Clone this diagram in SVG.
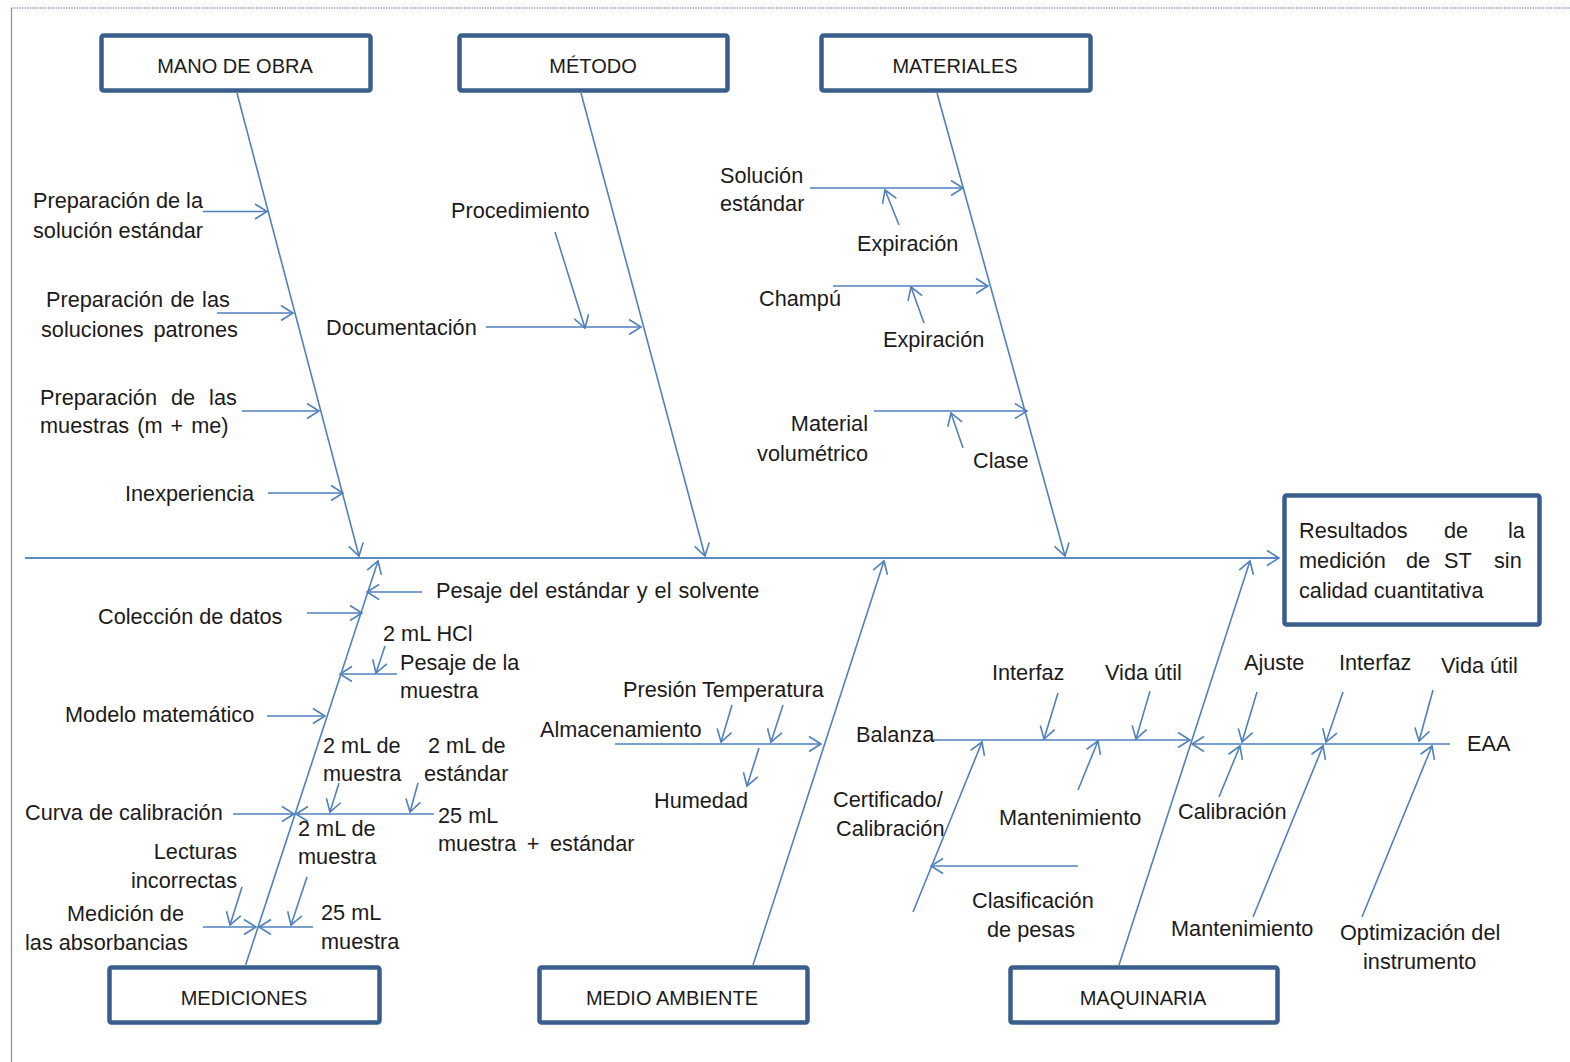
<svg xmlns="http://www.w3.org/2000/svg" width="1570" height="1062" viewBox="0 0 1570 1062">
  <style>
    .lbl { font-family: "Liberation Sans", Arial, sans-serif; font-size: 21.7px; fill: #1c1a1a; }
    .ttl { font-family: "Liberation Sans", Arial, sans-serif; font-size: 20px; fill: #1c1a1a; text-anchor: middle; }
    .box { fill: #ffffff; stroke: #3a5e8c; stroke-width: 4.5; }
    .ln { fill: none; stroke: #4f81bd; stroke-width: 1.6; marker-end: url(#ah); }
    .spine { fill: none; stroke: #5b8ac4; stroke-width: 2.2; marker-end: url(#ah); }
  </style>
  <defs>
    <marker id="ah" viewBox="-14 -10 16 20" refX="0" refY="0" markerWidth="16" markerHeight="20" markerUnits="userSpaceOnUse" orient="auto">
      <path d="M-12,-7.5 L0,0 L-12,7.5" fill="none" stroke="#4f81bd" stroke-width="1.6"/>
    </marker>
  </defs>

  <rect width="1570" height="1062" fill="#ffffff"/>

  <!-- page frame -->
  <g id="frame" fill="none" stroke="#8397b8" stroke-width="1.3">
    <line x1="11.5" y1="8" x2="1570" y2="8" stroke-dasharray="1.3 1.3"/>
    <line x1="11.5" y1="8" x2="11.5" y2="1062"/>
  </g>

  <!-- spine, category bones and cause arrows -->
  <g id="connectors">
    <path class="spine" d="M25,558 L1279,558"/>

    <path class="ln" d="M237,93 L359,556"/>
    <path class="ln" d="M581,93 L705,556"/>
    <path class="ln" d="M937,93 L1065,556"/>
    <path class="ln" d="M245.6,965 L378,561"/>
    <path class="ln" d="M753,965 L884,561"/>
    <path class="ln" d="M1119,965 L1250,561"/>

    <!-- mano de obra -->
    <path class="ln" d="M203,211.5 L267,211.5"/>
    <path class="ln" d="M217,313 L293,313"/>
    <path class="ln" d="M242,411 L319,411"/>
    <path class="ln" d="M268,493 L343,493"/>

    <!-- metodo -->
    <path class="ln" d="M486,327 L641,327"/>
    <path class="ln" d="M555,232 L585,328"/>

    <!-- materiales -->
    <path class="ln" d="M810,188 L963,188"/>
    <path class="ln" d="M899,225 L885,190"/>
    <path class="ln" d="M833,286 L988,286"/>
    <path class="ln" d="M924,323 L911,287"/>
    <path class="ln" d="M874,411 L1027,411"/>
    <path class="ln" d="M963,448 L951,413"/>

    <!-- mediciones -->
    <path class="ln" d="M422,592 L367,592"/>
    <path class="ln" d="M307,613 L362,613"/>
    <path class="ln" d="M397,674 L340,674"/>
    <path class="ln" d="M385,646 L376,673"/>
    <path class="ln" d="M267,716 L325,716"/>
    <path class="ln" d="M233,814 L294,814"/>
    <path class="ln" d="M434,814 L296,814"/>
    <path class="ln" d="M339,783 L330,812"/>
    <path class="ln" d="M418,783 L410,812"/>
    <path class="ln" d="M203,927 L256,927"/>
    <path class="ln" d="M313,927 L259,927"/>
    <path class="ln" d="M242,887 L230,925"/>
    <path class="ln" d="M307,877 L291,925"/>

    <!-- medio ambiente -->
    <path class="ln" d="M615,744 L821,744"/>
    <path class="ln" d="M732,705 L721,742"/>
    <path class="ln" d="M783,705 L771,742"/>
    <path class="ln" d="M759,748 L747,786"/>

    <!-- maquinaria: balanza -->
    <path class="ln" d="M931,740 L1190,740"/>
    <path class="ln" d="M1058,693 L1044,739"/>
    <path class="ln" d="M1150,691 L1136,739"/>
    <path class="ln" d="M1078,790 L1098,741"/>
    <path class="ln" d="M913,912 L982,742"/>
    <path class="ln" d="M1078,866 L931,866"/>

    <!-- maquinaria: EAA -->
    <path class="ln" d="M1450,744 L1192,744"/>
    <path class="ln" d="M1257,692 L1242,742"/>
    <path class="ln" d="M1343,692 L1326,742"/>
    <path class="ln" d="M1433,690 L1419,741"/>
    <path class="ln" d="M1219,797 L1240,746"/>
    <path class="ln" d="M1253,917 L1323,746"/>
    <path class="ln" d="M1362,917 L1432,746"/>
  </g>

  <!-- category boxes -->
  <g id="mano-de-obra">
    <rect class="box" x="101.5" y="35.5" width="269" height="55" rx="2"/>
    <text class="ttl" x="235" y="73">MANO DE OBRA</text>
  </g>
  <g id="metodo">
    <rect class="box" x="459.5" y="35.5" width="268" height="55" rx="2"/>
    <text class="ttl" x="593" y="73">MÉTODO</text>
  </g>
  <g id="materiales">
    <rect class="box" x="821.5" y="35.5" width="269" height="55" rx="2"/>
    <text class="ttl" x="955" y="73">MATERIALES</text>
  </g>
  <g id="mediciones">
    <rect class="box" x="109.5" y="967.5" width="270" height="55" rx="2"/>
    <text class="ttl" x="244" y="1005">MEDICIONES</text>
  </g>
  <g id="medio-ambiente">
    <rect class="box" x="539.5" y="967.5" width="268" height="55" rx="2"/>
    <text class="ttl" x="672" y="1005">MEDIO AMBIENTE</text>
  </g>
  <g id="maquinaria">
    <rect class="box" x="1010.5" y="967.5" width="267" height="55" rx="2"/>
    <text class="ttl" x="1143" y="1005">MAQUINARIA</text>
  </g>

  <!-- effect box -->
  <g id="resultado">
    <rect class="box" x="1284.5" y="495.5" width="255" height="129" rx="2"/>
    <text class="lbl" x="1299" y="538">Resultados</text>
    <text class="lbl" x="1444" y="538">de</text>
    <text class="lbl" x="1508" y="538">la</text>
    <text class="lbl" x="1299" y="568">medición</text>
    <text class="lbl" x="1406" y="568">de</text>
    <text class="lbl" x="1444" y="568">ST</text>
    <text class="lbl" x="1494" y="568">sin</text>
    <text class="lbl" x="1299" y="598">calidad cuantitativa</text>
  </g>

  <!-- causes: mano de obra -->
  <g id="c-prep-solucion">
    <text class="lbl" x="33" y="208">Preparación de la</text>
    <text class="lbl" x="33" y="238">solución estándar</text>
  </g>
  <g id="c-prep-patrones">
    <text class="lbl" x="46" y="307" word-spacing="1.5">Preparación de las</text>
    <text class="lbl" x="41" y="337" word-spacing="4">soluciones patrones</text>
  </g>
  <g id="c-prep-muestras">
    <text class="lbl" x="40" y="405" word-spacing="8">Preparación de las</text>
    <text class="lbl" x="40" y="433" word-spacing="2">muestras (m + me)</text>
  </g>
  <g id="c-inexperiencia">
    <text class="lbl" x="125" y="501">Inexperiencia</text>
  </g>

  <!-- causes: metodo -->
  <g id="c-procedimiento">
    <text class="lbl" x="451" y="218">Procedimiento</text>
  </g>
  <g id="c-documentacion">
    <text class="lbl" x="326" y="335">Documentación</text>
  </g>

  <!-- causes: materiales -->
  <g id="c-solucion-estandar">
    <text class="lbl" x="720" y="183">Solución</text>
    <text class="lbl" x="720" y="211">estándar</text>
  </g>
  <g id="c-expiracion-1">
    <text class="lbl" x="857" y="251">Expiración</text>
  </g>
  <g id="c-champu">
    <text class="lbl" x="759" y="306">Champú</text>
  </g>
  <g id="c-expiracion-2">
    <text class="lbl" x="883" y="347">Expiración</text>
  </g>
  <g id="c-material-volumetrico">
    <text class="lbl" x="868" y="431" text-anchor="end">Material</text>
    <text class="lbl" x="868" y="461" text-anchor="end">volumétrico</text>
  </g>
  <g id="c-clase">
    <text class="lbl" x="973" y="468">Clase</text>
  </g>

  <!-- causes: mediciones -->
  <g id="c-pesaje-estandar">
    <text class="lbl" x="436" y="598" word-spacing="1">Pesaje del estándar y el solvente</text>
  </g>
  <g id="c-coleccion">
    <text class="lbl" x="98" y="624">Colección de datos</text>
  </g>
  <g id="c-hcl">
    <text class="lbl" x="383" y="641">2 mL HCl</text>
  </g>
  <g id="c-pesaje-muestra">
    <text class="lbl" x="400" y="670">Pesaje de la</text>
    <text class="lbl" x="400" y="698">muestra</text>
  </g>
  <g id="c-modelo">
    <text class="lbl" x="65" y="722">Modelo matemático</text>
  </g>
  <g id="c-2ml-muestra-a">
    <text class="lbl" x="323" y="753">2 mL de</text>
    <text class="lbl" x="323" y="781">muestra</text>
  </g>
  <g id="c-2ml-estandar">
    <text class="lbl" x="428" y="753">2 mL de</text>
    <text class="lbl" x="424" y="781">estándar</text>
  </g>
  <g id="c-curva">
    <text class="lbl" x="25" y="820">Curva de calibración</text>
  </g>
  <g id="c-25ml-mezcla">
    <text class="lbl" x="438" y="823">25 mL</text>
    <text class="lbl" x="438" y="851" word-spacing="4.5">muestra + estándar</text>
  </g>
  <g id="c-2ml-muestra-b">
    <text class="lbl" x="298" y="836">2 mL de</text>
    <text class="lbl" x="298" y="864">muestra</text>
  </g>
  <g id="c-lecturas">
    <text class="lbl" x="237" y="859" text-anchor="end">Lecturas</text>
    <text class="lbl" x="237" y="888" text-anchor="end">incorrectas</text>
  </g>
  <g id="c-medicion-abs">
    <text class="lbl" x="67" y="921">Medición de</text>
    <text class="lbl" x="25" y="950">las absorbancias</text>
  </g>
  <g id="c-25ml-muestra">
    <text class="lbl" x="321" y="920">25 mL</text>
    <text class="lbl" x="321" y="949">muestra</text>
  </g>

  <!-- causes: medio ambiente -->
  <g id="c-presion">
    <text class="lbl" x="623" y="697">Presión</text>
  </g>
  <g id="c-temperatura">
    <text class="lbl" x="702" y="697">Temperatura</text>
  </g>
  <g id="c-almacenamiento">
    <text class="lbl" x="540" y="737">Almacenamiento</text>
  </g>
  <g id="c-humedad">
    <text class="lbl" x="654" y="808">Humedad</text>
  </g>

  <!-- causes: maquinaria -->
  <g id="c-balanza">
    <text class="lbl" x="856" y="742">Balanza</text>
  </g>
  <g id="c-interfaz-1">
    <text class="lbl" x="992" y="680">Interfaz</text>
  </g>
  <g id="c-vida-util-1">
    <text class="lbl" x="1105" y="680">Vida útil</text>
  </g>
  <g id="c-certificado">
    <text class="lbl" x="833" y="807">Certificado/</text>
    <text class="lbl" x="836" y="836">Calibración</text>
  </g>
  <g id="c-mantenimiento-1">
    <text class="lbl" x="999" y="825">Mantenimiento</text>
  </g>
  <g id="c-clasificacion">
    <text class="lbl" x="972" y="908">Clasificación</text>
    <text class="lbl" x="987" y="937">de pesas</text>
  </g>
  <g id="c-ajuste">
    <text class="lbl" x="1244" y="670">Ajuste</text>
  </g>
  <g id="c-interfaz-2">
    <text class="lbl" x="1339" y="670">Interfaz</text>
  </g>
  <g id="c-vida-util-2">
    <text class="lbl" x="1441" y="673">Vida útil</text>
  </g>
  <g id="c-eaa">
    <text class="lbl" x="1467" y="751">EAA</text>
  </g>
  <g id="c-calibracion">
    <text class="lbl" x="1178" y="819">Calibración</text>
  </g>
  <g id="c-mantenimiento-2">
    <text class="lbl" x="1171" y="936">Mantenimiento</text>
  </g>
  <g id="c-optimizacion">
    <text class="lbl" x="1340" y="940">Optimización del</text>
    <text class="lbl" x="1363" y="969">instrumento</text>
  </g>
</svg>
